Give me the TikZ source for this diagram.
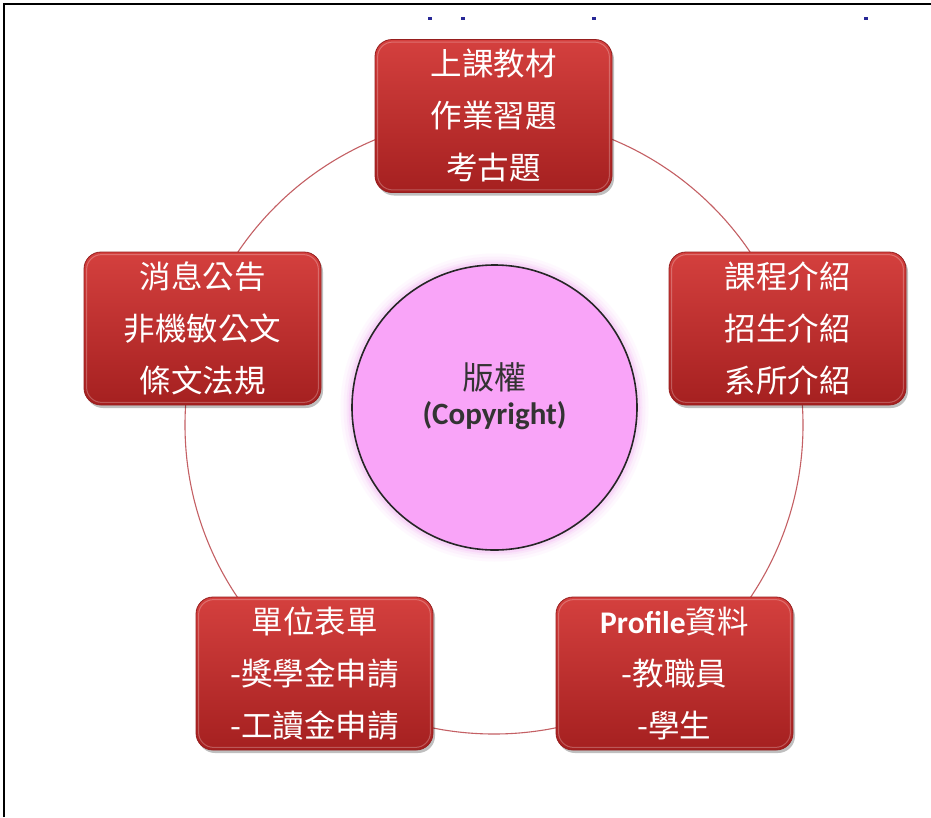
\documentclass[tikz,border=0pt]{standalone}
\usepackage{fontspec}
\newfontfamily\cjk{Noto Sans CJK TC}
\newfontfamily\lat{Carlito}
\usetikzlibrary{shadows}
\definecolor{boxtop}{RGB}{212,64,62}
\definecolor{boxbot}{RGB}{165,32,32}
\definecolor{boxedge}{RGB}{150,30,30}
\definecolor{ringcol}{RGB}{196,96,100}
\definecolor{pinkfill}{RGB}{249,164,248}
\definecolor{glowcol}{RGB}{240,150,240}
\definecolor{marknavy}{RGB}{40,40,150}
\begin{document}
\begin{tikzpicture}[x=1pt,y=-1pt,
  redbox/.style={rectangle, rounded corners=17pt, minimum width=237pt, minimum height=153pt,
    top color=boxtop, bottom color=boxbot, draw=boxedge, line width=0.8pt,
    text=white, align=center, inner sep=0pt,
    font=\cjk\fontsize{31.5}{52}\selectfont,
    drop shadow={shadow xshift=2pt, shadow yshift=-3pt, opacity=0.25, fill=black}},
  ringline/.style={draw=ringcol, line width=1.1pt},
  coredisc/.style={circle, minimum size=285pt, inner sep=0pt, fill=pinkfill, draw=black!85, line width=1.6pt},
  coretext/.style={align=center, text=black!80, inner sep=0pt},
  bluemark/.style={fill=marknavy}
]
\useasboundingbox (0,0) rectangle (931,817);
\fill[white] (0,0) rectangle (931,817);
% frame
\draw[black, line width=2pt] (4,817) -- (4,4) -- (931,4);
% remnants of cut text at top
\foreach \mx in {430,463,594,866} \fill[bluemark] (\mx-2,17) rectangle (\mx+2,20);
% ring
\coordinate (c) at (494,425);
\draw[ringline] (c) circle (309pt);
% glow around core
\foreach \r/\o in {154/0.06,151/0.08,148/0.12,146/0.18}
  \fill[glowcol, opacity=\o] (494.5,407.5) circle (\r pt);
\node[coredisc] (core) at (494.5,407.5) {};
\node[coretext] (coretxt) at (494.5,396) {{\cjk\fontsize{32}{42}\selectfont 版權}\\[8pt]{\lat\bfseries\fontsize{31}{36}\selectfont (Copyright)}};
% boxes
\node[redbox] (top) at (493.5,116) {上課教材\\作業習題\\考古題};
\node[redbox] (right) at (787.5,328.5) {課程介紹\\招生介紹\\系所介紹};
\node[redbox] (left) at (202.5,328.5) {消息公告\\非機敏公文\\條文法規};
\node[redbox] (bl) at (314.5,673.5) {單位表單\\-獎學金申請\\-工讀金申請};
\node[redbox] (br) at (674.5,673.5) {{\lat\bfseries Profile}資料\\-教職員\\-學生};
% glossy top highlight
\foreach \n in {top,right,left,bl,br}
  \draw[white, opacity=0.25, line width=1pt, rounded corners=15pt]
    ([xshift=3pt,yshift=-3pt]\n.north west) rectangle ([xshift=-3pt,yshift=3pt]\n.south east);
\end{tikzpicture}
\end{document}
